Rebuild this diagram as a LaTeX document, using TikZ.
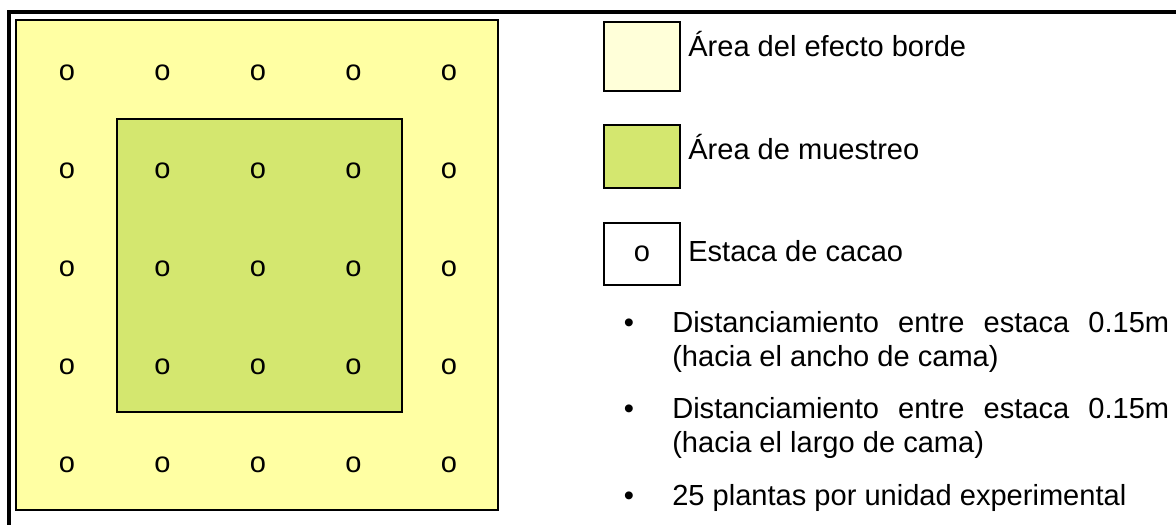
\documentclass[tikz,border=0pt]{standalone}
\usepackage{fontspec}
\setmainfont{Liberation Sans}
\definecolor{bordeyellow}{HTML}{FFFFA3}
\definecolor{legendyellow}{HTML}{FFFFD9}
\definecolor{muestreogreen}{HTML}{D4E76F}
\tikzset{
  estaca/.style={inner sep=0pt},
  legendbox/.style={draw=black, line width=1.5pt, anchor=north west, inner sep=0pt},
  legendtext/.style={anchor=base west, inner sep=0pt},
  bullet/.style={anchor=base, inner sep=0pt}
}
\begin{document}
\begin{tikzpicture}[x=0.75pt,y=-0.75pt,font=\fontsize{21.8}{26}\selectfont]
  \clip (0,0) rectangle (1176,524);
  \fill[white] (0,0) rectangle (1176,524);
  % outer frame
  \draw[line width=2.3pt] (9,12) rectangle (1190,540);
  % unidad experimental
  \draw[fill=bordeyellow, line width=1.5pt] (16,20) rectangle (498,510);
  \draw[fill=muestreogreen, line width=1.5pt] (117,119) rectangle (402,412);
  \foreach \row [count=\r] in {73,171,269,367,465}
    \foreach \col [count=\c] in {67,162.5,258,353.5,449}
      \node[estaca] (o-\r-\c) at (\col,\row) {o};
  % leyenda
  \node[legendbox, fill=legendyellow, minimum width=57pt, minimum height=51.75pt] (box-borde) at (603,21) {};
  \node[legendtext] (txt-borde) at (688,57) {Área del efecto borde};
  \node[legendbox, fill=muestreogreen, minimum width=57pt, minimum height=47.25pt] (box-muestreo) at (603,124) {};
  \node[legendtext] (txt-muestreo) at (688,159) {Área de muestreo};
  \node[legendbox, minimum width=57pt, minimum height=46.5pt] (box-estaca) at (603,222) {};
  \node[estaca] (o-estaca) at (box-estaca.center) {o};
  \node[legendtext] (txt-estaca) at (688,261) {Estaca de cacao};
  % notas
  \node[bullet] (b-1) at (629,332) {•};
  \node[legendtext] (n-1a) at (672,332) {\makebox[372.75pt][s]{Distanciamiento entre estaca 0.15m}};
  \node[legendtext] (n-1b) at (672,366) {(hacia el ancho de cama)};
  \node[bullet] (b-2) at (629,418) {•};
  \node[legendtext] (n-2a) at (672,418) {\makebox[372.75pt][s]{Distanciamiento entre estaca 0.15m}};
  \node[legendtext] (n-2b) at (672,452) {(hacia el largo de cama)};
  \node[bullet] (b-3) at (629,505) {•};
  \node[legendtext] (n-3) at (672,505) {25 plantas por unidad experimental};
\end{tikzpicture}
\end{document}
